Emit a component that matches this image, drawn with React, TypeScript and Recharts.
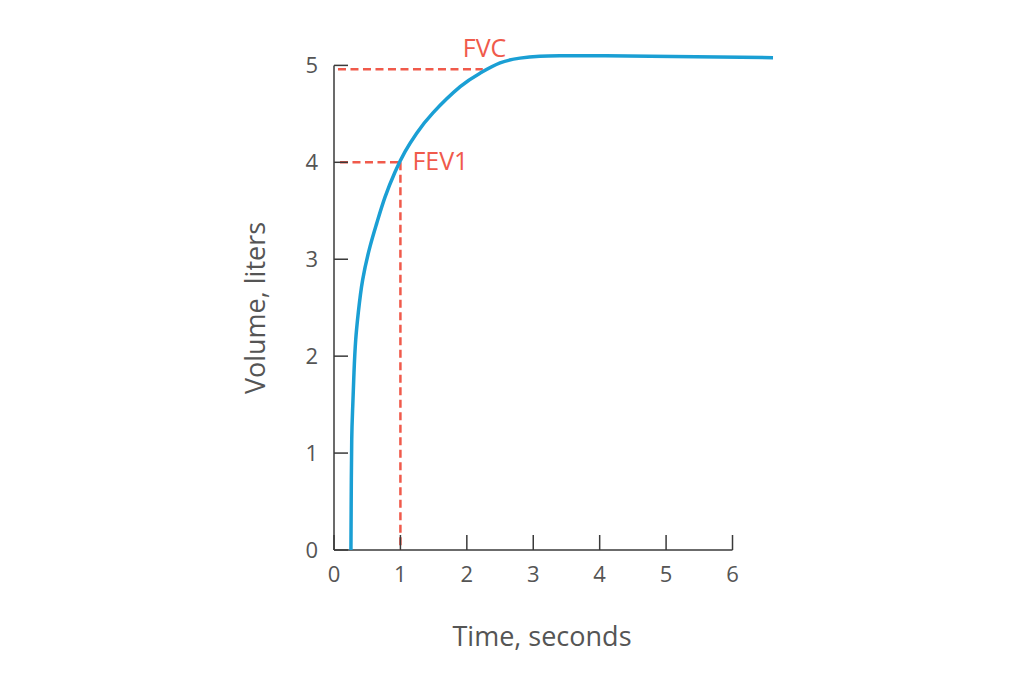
import { LineChart, Line, XAxis, YAxis, ReferenceLine, ReferenceDot, Label } from "recharts";

// spirometry volume-time curve
const timeSeconds = [0.255, 0.259, 0.267, 0.282, 0.301, 0.327, 0.366, 0.432, 0.542, 0.643, 0.768, 0.919, 1.07, 1.245, 1.49, 1.9, 2.2, 2.5, 2.8, 3.1, 3.4, 4.0, 4.76, 6.61];
const volumeLiters = [0, 0.52, 1.14, 1.48, 1.83, 2.17, 2.45, 2.79, 3.13, 3.37, 3.64, 3.9, 4.11, 4.3, 4.51, 4.78, 4.92, 5.025, 5.075, 5.095, 5.1, 5.1, 5.095, 5.08];

const xTicks = [0, 1, 2, 3, 4, 5, 6];
const yTicks = [0, 1, 2, 3, 4, 5];

// markers: FEV1 at 1 s, FVC plateau
const fev1 = { t: 1, v: 4 };
const fvc = { t: 2.24, v: 4.96 };
const dashStart = [0.06, 0.09]; // dashed lines start just right of the axis

const curve = timeSeconds.map((t, i) => ({ t, v: volumeLiters[i] }));

const BLUE = "#1a9fd4";
const RED = "#f05a4b";
const AXIS = "#3a3a3a";
const TEXT = "#555555";
const FONT = "'Open Sans', sans-serif";

function XTick({ x, y, payload }: any) {
  return (
    <g>
      <line x1={x} x2={x} y1={y - 15} y2={y} stroke={AXIS} strokeWidth={1.5} />
      <text x={x} y={y + 32} textAnchor="middle" fill={TEXT} fontSize={22} fontFamily={FONT}>
        {payload.value}
      </text>
    </g>
  );
}

function YTick({ x, y, payload }: any) {
  return (
    <g>
      <line x1={x} x2={x + 14} y1={y} y2={y} stroke={AXIS} strokeWidth={1.5} />
      <text x={x - 16} y={y + 8} textAnchor="end" fill={TEXT} fontSize={22} fontFamily={FONT}>
        {payload.value}
      </text>
    </g>
  );
}

function markerText(text: string, dx: number, dy: number) {
  return (props: any) => {
    const { x, y, width, height } = props.viewBox;
    return (
      <text x={x + width / 2 + dx} y={y + height / 2 + dy} fill={RED} fontSize={25} fontFamily={FONT}>
        {text}
      </text>
    );
  };
}

export default function App() {
  return (
    <div style={{ position: "absolute", left: 0, top: 0, width: 1024, height: 682, background: "#fff" }}>
      <LineChart width={1024} height={682} data={curve} margin={{ top: 46, right: 245, bottom: 92, left: 274 }}>
        <XAxis
          dataKey="t"
          type="number"
          domain={[0, 6.7]}
          ticks={xTicks}
          interval={0}
          axisLine={false}
          tickLine={false}
          tickSize={0}
          tickMargin={0}
          height={40}
          tick={<XTick />}
        >
          <Label
            content={(p: any) => (
              <text x={p.viewBox.x + 208} y={p.viewBox.y + 96} textAnchor="middle" fill={TEXT} fontSize={27} fontFamily={FONT}>
                Time, seconds
              </text>
            )}
          />
        </XAxis>
        <YAxis
          type="number"
          domain={[0, 5.2]}
          ticks={yTicks}
          interval={0}
          axisLine={false}
          tickLine={false}
          tickSize={0}
          tickMargin={0}
          width={60}
          tick={<YTick />}
        >
          <Label
            content={(p: any) => {
              const cx = p.viewBox.x - 9;
              const cy = 308;
              return (
                <text x={cx} y={cy} transform={`rotate(-90 ${cx} ${cy})`} textAnchor="middle" fill={TEXT} fontSize={27} fontFamily={FONT}>
                  Volume, liters
                </text>
              );
            }}
          />
        </YAxis>

        <ReferenceLine segment={[{ x: 0, y: 0 }, { x: 6, y: 0 }]} stroke={AXIS} strokeWidth={1.5} />
        <ReferenceLine segment={[{ x: 0, y: 0 }, { x: 0, y: 5 }]} stroke={AXIS} strokeWidth={1.5} />

        <ReferenceLine segment={[{ x: dashStart[0], y: fvc.v }, { x: fvc.t, y: fvc.v }]} stroke={RED} strokeWidth={2.5} strokeDasharray="8 4.5" />
        <ReferenceLine segment={[{ x: dashStart[1], y: fev1.v }, { x: fev1.t, y: fev1.v }]} stroke={RED} strokeWidth={2.5} strokeDasharray="8 4.5" />
        <ReferenceLine segment={[{ x: fev1.t, y: fev1.v }, { x: fev1.t, y: 0 }]} stroke={RED} strokeWidth={2.5} strokeDasharray="8 4.5" />

        <Line
          dataKey="v"
          type="natural"
          stroke={BLUE}
          strokeWidth={3.5}
          dot={false}
          activeDot={false}
          isAnimationActive={false}
        />

        <ReferenceDot x={fev1.t} y={fev1.v} r={1} fill="none" stroke="none">
          <Label content={markerText("FEV1", 12, 8)} />
        </ReferenceDot>
        <ReferenceDot x={fvc.t} y={fvc.v} r={1} fill="none" stroke="none">
          <Label content={markerText("FVC", -20, -12)} />
        </ReferenceDot>
      </LineChart>
    </div>
  );
}
